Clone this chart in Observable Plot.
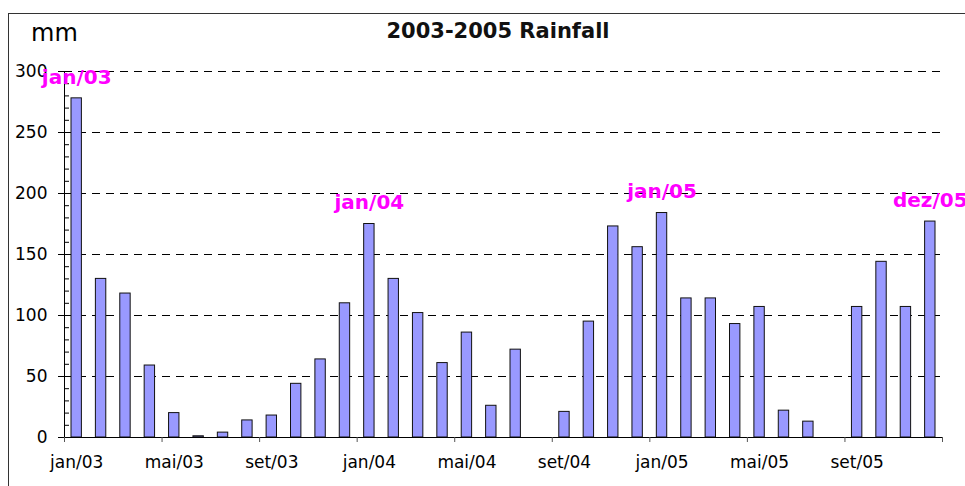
<!DOCTYPE html>
<html>
<head>
<meta charset="utf-8">
<script src="https://cdn.jsdelivr.net/npm/d3@7"></script>
<script src="https://cdn.jsdelivr.net/npm/@observablehq/plot@0.6"></script>
<style>
  body { margin: 0; background: #fff; }
  #wrap { position: relative; width: 965px; height: 486px; overflow: hidden; background: #fff; font-family: "DejaVu Sans", sans-serif; }
  #chart { position: absolute; left: 0; top: 0; }
  #frame { position: absolute; left: 8px; top: 13px; width: 1200px; height: 1000px; border: 1px solid #333; pointer-events: none; }
  #title { position: absolute; left: 498px; top: 21px; transform: translateX(-50%); white-space: nowrap; font-size: 21px; line-height: 21px; font-weight: bold; color: #111; }
  #unit { position: absolute; left: 31px; top: 21px; white-space: nowrap; font-size: 24px; line-height: 24px; color: #000; }
</style>
</head>
<body>
<div id="wrap">
  <div id="chart"></div>
  <div id="title">2003-2005 Rainfall</div>
  <div id="unit">mm</div>
  <div id="frame"></div>
</div>
<script>
const months = [
  "jan/03","fev/03","mar/03","abr/03","mai/03","jun/03","jul/03","ago/03","set/03","out/03","nov/03","dez/03",
  "jan/04","fev/04","mar/04","abr/04","mai/04","jun/04","jul/04","ago/04","set/04","out/04","nov/04","dez/04",
  "jan/05","fev/05","mar/05","abr/05","mai/05","jun/05","jul/05","ago/05","set/05","out/05","nov/05","dez/05"
];
const rainfall = [
  278, 130, 118, 59, 20, 1, 4, 14, 18, 44, 64, 110,
  175, 130, 102, 61, 86, 26, 72, 0, 21, 95, 173, 156,
  184, 114, 114, 93, 107, 22, 13, 0, 107, 144, 107, 177
];
const xTickLabels = ["jan/03","mai/03","set/03","jan/04","mai/04","set/04","jan/05","mai/05","set/05"];
const highlighted = ["jan/03","jan/04","jan/05","dez/05"];
const yTicks = [0, 50, 100, 150, 200, 250, 300];
const gridTicks = [50, 100, 150, 200, 250, 300];
const minorTicks = d3.range(0, 301, 10);

const data = months.map((m, i) => ({i, m, v: rainfall[i]}));

const W = 965, H = 486, ML = 64, MR = 23, MT = 71, MB = 49;
const innerW = W - ML - MR;
const boundaries = d3.range(0, months.length + 1, 4);
const labelPos = xTickLabels.map(m => months.indexOf(m) + 0.5);

const chart = Plot.plot({
  width: W,
  height: H,
  marginLeft: ML,
  marginRight: MR,
  marginTop: MT,
  marginBottom: MB,
  style: {fontFamily: "DejaVu Sans, sans-serif", background: "transparent", color: "#000"},
  x: {type: "linear", domain: [0, months.length], axis: null, label: null},
  y: {domain: [0, 300], axis: null, label: null},
  marks: [
    Plot.gridY(gridTicks, {stroke: "#000", strokeOpacity: 1, strokeWidth: 1, strokeDasharray: "8,6"}),
    Plot.rectY(data, {
      x1: d => d.i, x2: d => d.i + 1, y: "v",
      insetLeft: 7, insetRight: 7,
      fill: "#9999ff", stroke: "#111", strokeWidth: 1
    }),
    Plot.ruleX([0], {stroke: "#000"}),
    Plot.ruleY([0], {stroke: "#000"}),
    Plot.axisY({ticks: yTicks, tickSize: 6, tickPadding: 11, fontSize: 17, color: "#000", label: null}),
    Plot.tickY(minorTicks, {y: d => d, stroke: "#000", insetRight: innerW - 5}),
    Plot.axisX({ticks: boundaries, tickSize: 5, tickFormat: () => "", stroke: "#555", label: null}),
    Plot.axisX({ticks: labelPos, tickSize: 0, tickPadding: 18, fontSize: 17, color: "#000", label: null,
      tickFormat: d => months[Math.floor(d)]}),
    Plot.text(data.filter(d => highlighted.includes(d.m)), {
      x: d => d.i + 0.5, y: "v", text: "m", dy: -21,
      fill: "#ff00ff", fontWeight: "bold", fontSize: 20
    })
  ]
});
document.getElementById("chart").appendChild(chart);
</script>
</body>
</html>
